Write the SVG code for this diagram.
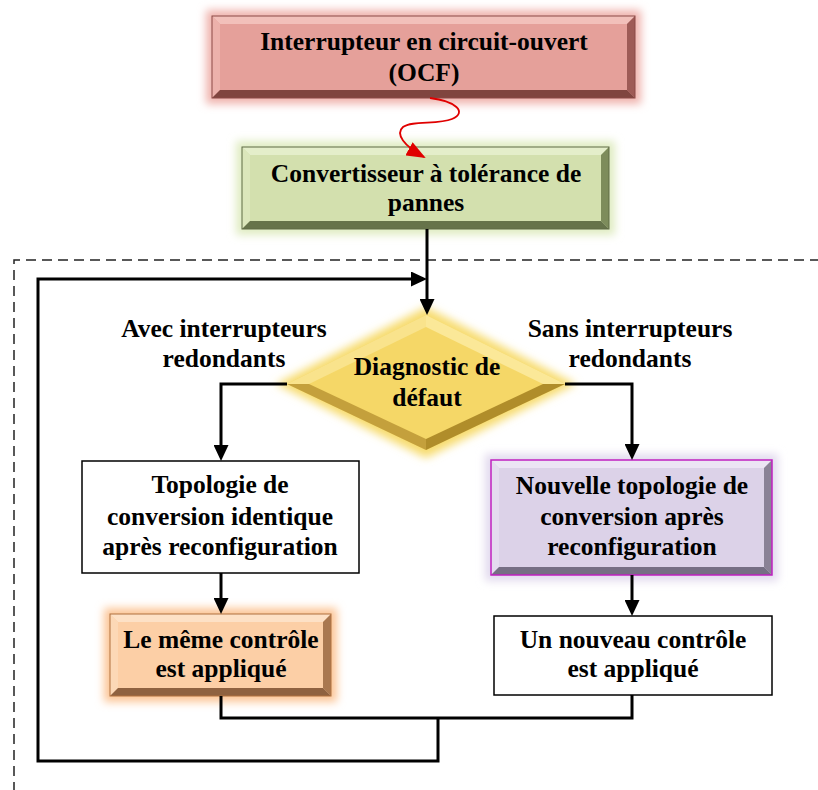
<svg xmlns="http://www.w3.org/2000/svg" width="818" height="790" viewBox="0 0 818 790">
<defs>
<style>
text{font-family:"Liberation Serif","Times New Roman",serif;font-weight:bold;font-size:25.5px;fill:#000;text-anchor:middle}
.conn{fill:none;stroke:#000;stroke-width:3}
.arr{fill:none;stroke:#000;stroke-width:3;marker-end:url(#ah)}
.plain{fill:#fff;stroke:#000;stroke-width:1.5}
</style>
<marker id="ah" viewBox="0 0 10 10" refX="7.5" refY="5" markerUnits="userSpaceOnUse" markerWidth="16" markerHeight="15" orient="auto" preserveAspectRatio="none">
<path d="M0,0 L10,5 L0,10 z" fill="#000"/>
</marker>
<marker id="ahr" viewBox="0 0 10 10" refX="9" refY="5" markerUnits="userSpaceOnUse" markerWidth="19" markerHeight="15" orient="auto" preserveAspectRatio="none">
<path d="M0,0 L10,5 L0,10 z" fill="#e00000"/>
</marker>
<filter id="glow" x="-20%" y="-30%" width="140%" height="160%">
<feGaussianBlur stdDeviation="4"/>
</filter>
</defs>

<!-- dashed frame -->
<path d="M14,792 V260 H820" fill="none" stroke="#222" stroke-width="1.5" stroke-dasharray="10,6"/>

<g id="n-ocf">
<rect x="206" y="10" width="435" height="94" fill="#f0b4ae" filter="url(#glow)"/>
<rect x="212" y="16" width="423" height="82" fill="#e5a09a"/>
<polygon points="212,16 635,16 627,24 220,24" fill="#f2c0ba"/>
<polygon points="212,16 220,24 220,90 212,98" fill="#ecb1ab"/>
<polygon points="635,16 635,98 627,90 627,24" fill="#9e5b56"/>
<polygon points="212,98 635,98 627,90 220,90" fill="#80453f"/>
<rect x="212" y="16" width="423" height="82" fill="none" stroke="#8b4b47" stroke-width="1"/>
<text x="424" y="50">Interrupteur en circuit-ouvert</text>
<text x="424" y="81">(OCF)</text>
</g>

<g id="n-conv">
<rect x="236" y="141" width="379" height="94" fill="#e0ecc2" filter="url(#glow)"/>
<rect x="242" y="147" width="367" height="82" fill="#d3e0ae"/>
<polygon points="242,147 609,147 601,155 250,155" fill="#e4eeca"/>
<polygon points="242,147 250,155 250,221 242,229" fill="#dbe6bb"/>
<polygon points="609,147 609,229 601,221 601,155" fill="#7d8c5b"/>
<polygon points="242,229 609,229 601,221 250,221" fill="#66734a"/>
<rect x="242" y="147" width="367" height="82" fill="none" stroke="#5f6b45" stroke-width="1"/>
<text x="426" y="182">Convertisseur à tolérance de</text>
<text x="426" y="211">pannes</text>
</g>

<g id="n-diag">
<polygon points="426,307 576,384 426,458 276,384" fill="#f7dc70" filter="url(#glow)"/>
<polygon points="426,315 565,384 426,450 287,384" fill="#f5d767"/>
<polygon points="426,315 565,384 543,384 426,327" fill="#fbe898"/>
<polygon points="426,315 287,384 309,384 426,327" fill="#f9e38c"/>
<polygon points="565,384 426,450 426,439 543,384" fill="#b08d2a"/>
<polygon points="287,384 426,450 426,439 309,384" fill="#c4a03c"/>
<text x="427" y="375">Diagnostic de</text>
<text x="427" y="406">défaut</text>
</g>

<g id="lbl-avec">
<text x="224" y="337">Avec interrupteurs</text>
<text x="224" y="367">redondants</text>
</g>
<g id="lbl-sans">
<text x="630" y="337">Sans interrupteurs</text>
<text x="630" y="367">redondants</text>
</g>

<g id="n-topo-ident">
<rect class="plain" x="82" y="461" width="277" height="112"/>
<text x="220" y="493">Topologie de</text>
<text x="220" y="525">conversion identique</text>
<text x="220" y="555">après reconfiguration</text>
</g>

<g id="n-meme">
<rect x="104" y="608" width="233" height="94" fill="#fcc697" filter="url(#glow)"/>
<rect x="110" y="614" width="221" height="82" fill="#fccfa6"/>
<polygon points="110,614 331,614 323,622 118,622" fill="#fde1c6"/>
<polygon points="110,614 118,622 118,688 110,696" fill="#fcd8b6"/>
<polygon points="331,614 331,696 323,688 323,622" fill="#a97850"/>
<polygon points="110,696 331,696 323,688 118,688" fill="#8f6240"/>
<rect x="110" y="614" width="221" height="82" fill="none" stroke="#b0703e" stroke-width="1"/>
<text x="221" y="648">Le même contrôle</text>
<text x="221" y="677">est appliqué</text>
</g>

<g id="n-nouvelle-topo">
<rect x="485" y="454" width="293" height="127" fill="#e2daee" filter="url(#glow)"/>
<rect x="491" y="460" width="281" height="115" fill="#dcd2e8"/>
<polygon points="491,460 772,460 764,468 499,468" fill="#ece5f4"/>
<polygon points="491,460 499,468 499,567 491,575" fill="#e4dcef"/>
<polygon points="772,460 772,575 764,567 764,468" fill="#8a8296"/>
<polygon points="491,575 772,575 764,567 499,567" fill="#766f84"/>
<rect x="491" y="460" width="281" height="115" fill="none" stroke="#c020c0" stroke-width="1.5"/>
<text x="632" y="494">Nouvelle topologie de</text>
<text x="632" y="525">conversion après</text>
<text x="632" y="555">reconfiguration</text>
</g>

<g id="n-nouveau">
<rect class="plain" x="494" y="616" width="278" height="79"/>
<text x="633" y="648">Un nouveau contrôle</text>
<text x="633" y="677">est appliqué</text>
</g>

<g id="connectors">
<path d="M430,98 C455,101 468,112 452,119 C438,125 412,120 403,127 C395,134 404,146 424,157" fill="none" stroke="#e00000" stroke-width="1.8" marker-end="url(#ahr)"/>
<path class="arr" d="M427,229 V311"/>
<path class="arr" d="M287,384 H221 V457"/>
<path class="arr" d="M565,384 H632 V456"/>
<path class="arr" d="M221,573 V610"/>
<path class="arr" d="M632,575 V612"/>
<path class="conn" d="M221,696 V718 H632 V695"/>
<path class="arr" d="M438,718 V761 H38 V279 H423"/>
</g>
</svg>
